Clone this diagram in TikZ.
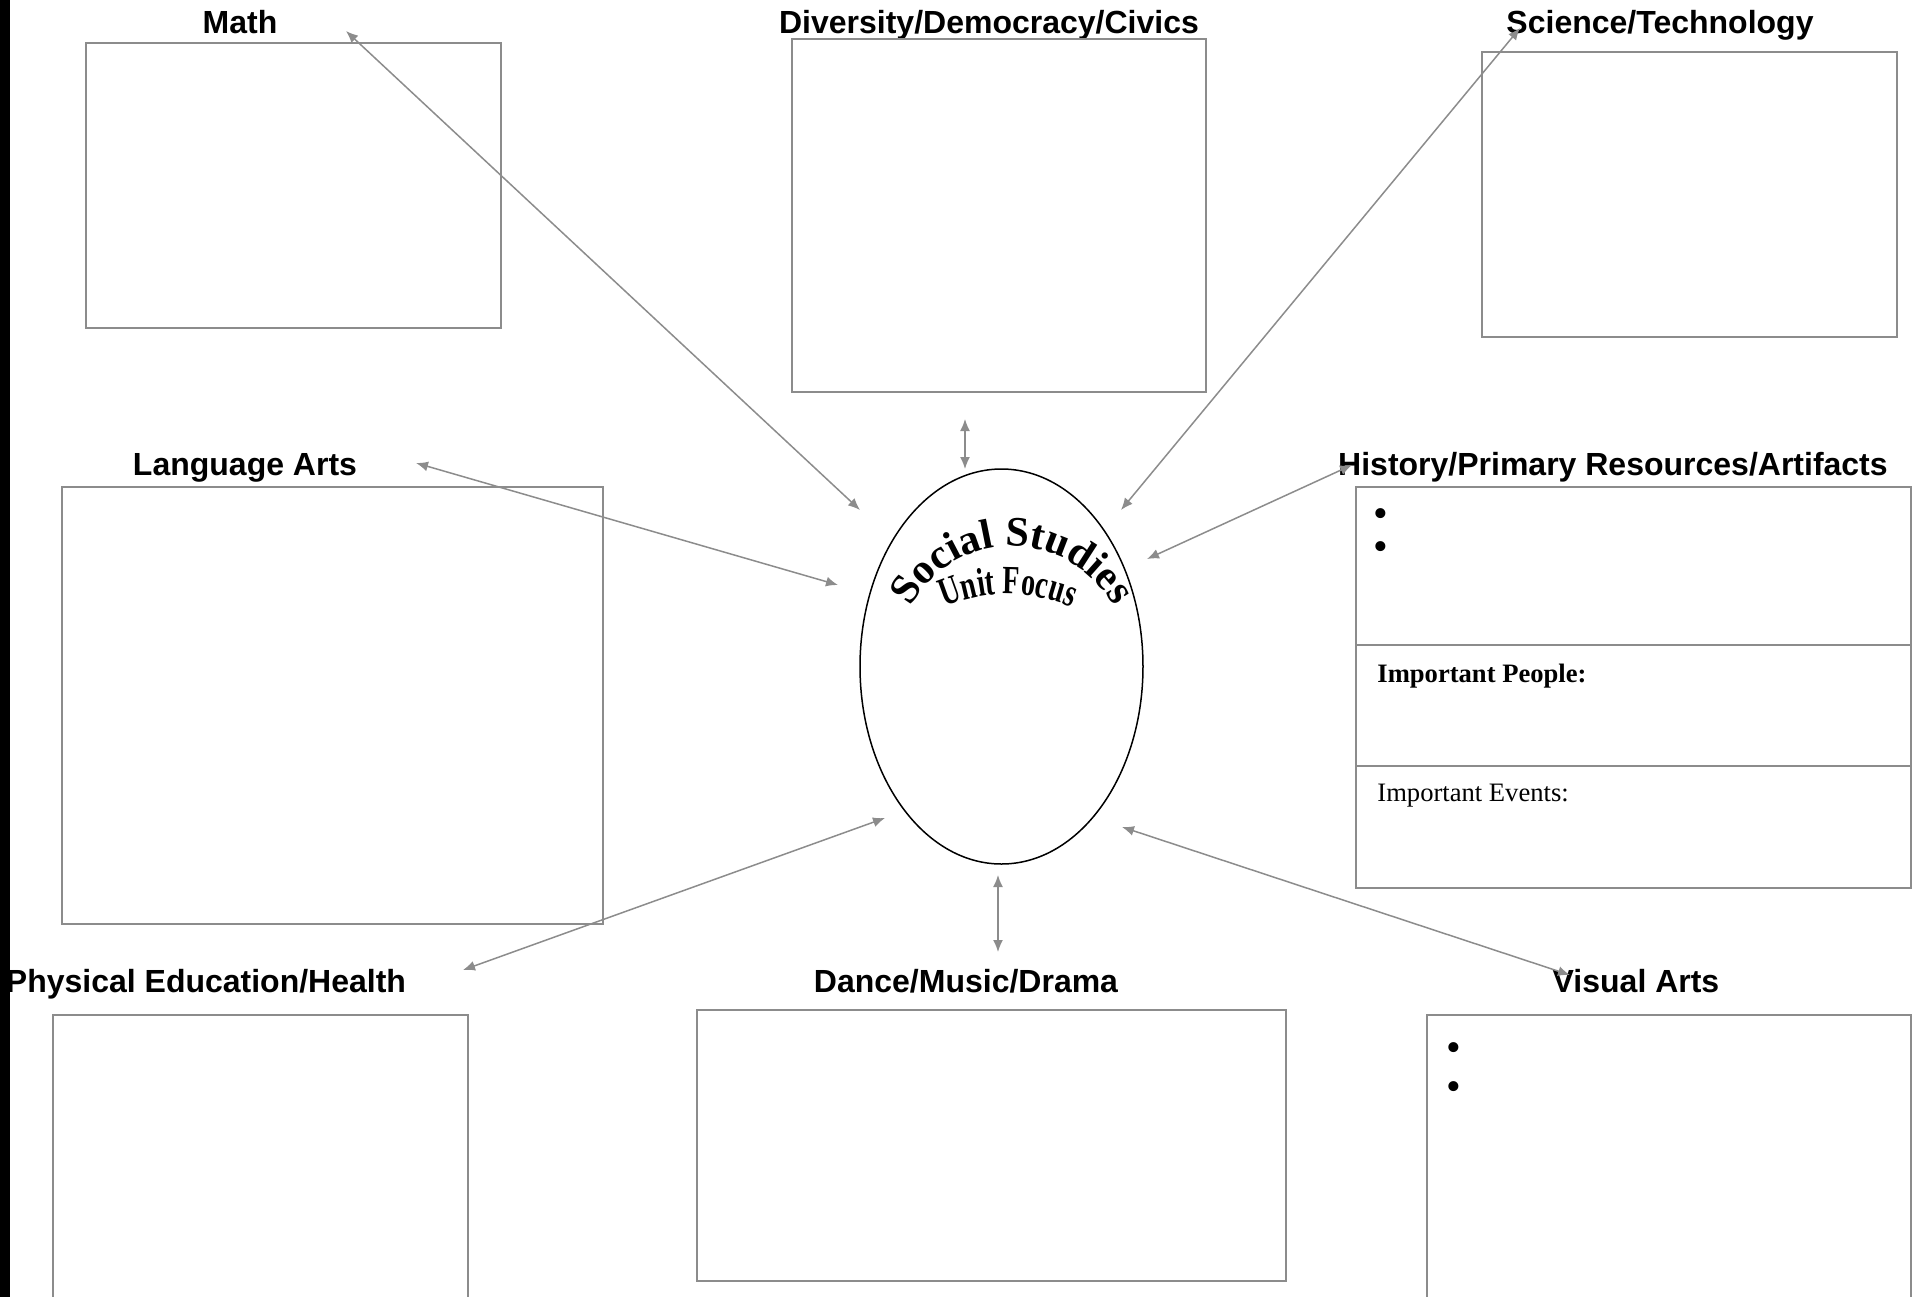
\documentclass[tikz,border=0pt]{standalone}
\usepackage{fontspec}
\setmainfont{Liberation Serif}
\setsansfont{Liberation Sans}
\newfontfamily\focusfont[FakeStretch=0.7]{Liberation Serif}
\usetikzlibrary{arrows.meta,shapes.geometric,decorations.text}

\tikzset{
  heading/.style={font=\sffamily\bfseries\fontsize{16}{18}\selectfont, anchor=base, inner sep=0pt},
  panel/.style={draw=black!45, line width=1pt},
  link/.style={draw=black!45, line width=0.75pt, {Latex[length=6pt,width=5pt]}-{Latex[length=6pt,width=5pt]}},
  note/.style={font=\fontsize{13.3}{15}\selectfont, anchor=base west, inner sep=0pt},
  bullet/.style={font=\fontsize{21}{22}\selectfont, inner sep=0pt}
}

\begin{document}
\begin{tikzpicture}[x=0.5pt,y=-0.5pt]
  \useasboundingbox (0,0) rectangle (1919,1297);
  \clip (0,0) rectangle (1919,1297);
  \fill[black] (0,0) rectangle (10,1297);

  % top row
  \node[heading] (mathHead) at (240,33) {Math};
  \draw[panel] (86,43) rectangle (501,328);
  \node[heading] (civHead) at (989,33) {Diversity/Democracy/Civics};
  \draw[panel] (792,39) rectangle (1206,392);
  \node[heading] (sciHead) at (1660,33) {Science/Technology};
  \draw[panel] (1482,52) rectangle (1897,337);

  % middle row
  \node[heading] (langHead) at (245,475) {Language Arts};
  \draw[panel] (62,487) rectangle (603,924);
  \node[heading] (histHead) at (1613,475) {History/Primary Resources/Artifacts};
  \draw[panel] (1356,487) rectangle (1911,888);
  \draw[panel] (1356,645) -- (1911,645);
  \draw[panel] (1356,766) -- (1911,766);
  \node[bullet] (histDotA) at (1381,518) {\textbullet};
  \node[bullet] (histDotB) at (1381,551) {\textbullet};
  \node[note] (people) at (1377,682) {\textbf{Important People:}};
  \node[note] (events) at (1377,801) {Important Events:};

  % bottom row
  \node[heading] (peHead) at (206,992) {Physical Education/Health};
  \draw[panel] (53,1015) rectangle (468,1320);
  \node[heading] (danceHead) at (966,992) {Dance/Music/Drama};
  \draw[panel] (697,1010) rectangle (1286,1281);
  \node[heading] (artHead) at (1636,992) {Visual Arts};
  \draw[panel] (1427,1015) rectangle (1911,1320);
  \node[bullet] (artDotA) at (1454,1052) {\textbullet};
  \node[bullet] (artDotB) at (1454,1091) {\textbullet};

  % centre
  \node[draw, ellipse, line width=0.75pt, minimum width=141.5pt, minimum height=197.5pt, inner sep=0pt] (focus) at (1001.5,666.5) {};
  \path[decorate, decoration={text along path, text align=center,
      text={|\bfseries\fontsize{21}{24}\selectfont|Social Studies}}]
    (1012,661) ++(-164:115) arc[start angle=-164, end angle=-16, radius=115];
  \path[decorate, decoration={text along path, text align=center,
      text={|\focusfont\bfseries\fontsize{20}{22}\selectfont|Unit Focus}}]
    (1008,752) ++(-122:158) arc[start angle=-122, end angle=-58, radius=158];

  % arrow ends
  \coordinate (mathEnd) at (346,31);
  \coordinate (focusNW) at (860,510);
  \coordinate (civEnd) at (965,419);
  \coordinate (focusN) at (965,469);
  \coordinate (sciEnd) at (1520,28);
  \coordinate (focusNE) at (1121,510);
  \coordinate (langEnd) at (416,463);
  \coordinate (focusW) at (838,585);
  \coordinate (histEnd) at (1352,465);
  \coordinate (focusE) at (1147,559);
  \coordinate (peEnd) at (463,970);
  \coordinate (focusSW) at (885,818);
  \coordinate (danceEnd) at (998,952);
  \coordinate (focusS) at (998,875);
  \coordinate (artEnd) at (1570,975);
  \coordinate (focusSE) at (1122,827);

  \draw[link] (mathEnd) -- (focusNW);
  \draw[link] (civEnd) -- (focusN);
  \draw[link] (sciEnd) -- (focusNE);
  \draw[link] (langEnd) -- (focusW);
  \draw[link] (histEnd) -- (focusE);
  \draw[link] (peEnd) -- (focusSW);
  \draw[link] (danceEnd) -- (focusS);
  \draw[link] (artEnd) -- (focusSE);
\end{tikzpicture}
\end{document}
